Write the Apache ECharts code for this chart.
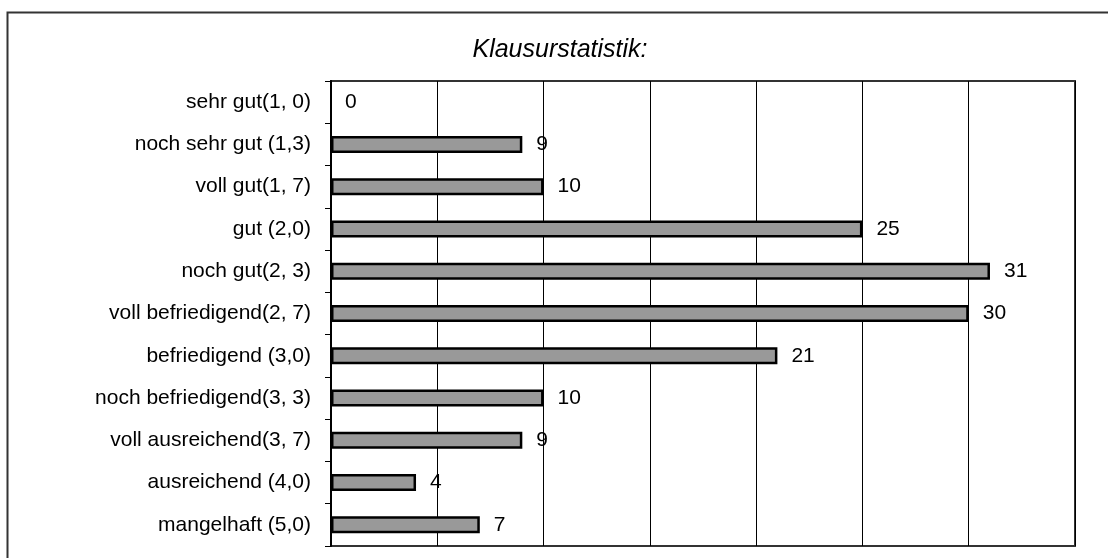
<!DOCTYPE html>
<html>
<head>
<meta charset="utf-8">
<script src="https://cdn.jsdelivr.net/npm/echarts@6/dist/echarts.min.js"></script>
<style>
html,body{margin:0;padding:0;background:#fff;}
#chart{width:1108px;height:558px;}
</style>
</head>
<body>
<div id="chart"></div>
<script>
const titleText = 'Klausurstatistik:';
const categories = [
  'sehr gut(1, 0)',
  'noch sehr gut (1,3)',
  'voll gut(1, 7)',
  'gut (2,0)',
  'noch gut(2, 3)',
  'voll befriedigend(2, 7)',
  'befriedigend (3,0)',
  'noch befriedigend(3, 3)',
  'voll ausreichend(3, 7)',
  'ausreichend (4,0)',
  'mangelhaft (5,0)'
];
const counts = [0, 9, 10, 25, 31, 30, 21, 10, 9, 4, 7];
const xMin = 0, xMax = 35, xStep = 5;

const font = '"Liberation Sans", Arial, sans-serif';
const barData = counts.map(v => v === 0
  ? {value: v, itemStyle: {borderWidth: 0, color: 'transparent'}}
  : {value: v});

const chart = echarts.init(document.getElementById('chart'), null, {renderer: 'canvas'});
chart.setOption({
  backgroundColor: '#fff',
  animation: false,
  title: {
    text: titleText,
    left: 555, top: 33, textAlign: 'center',
    textStyle: {fontFamily: font, fontSize: 25, fontStyle: 'italic', fontWeight: 'normal', color: '#000'}
  },
  graphic: [{
    type: 'rect', left: 5, top: 10, z: -1,
    shape: {x: 0, y: 0, width: 1200, height: 700},
    style: {fill: 'none', stroke: '#333', lineWidth: 2}
  }],
  grid: {
    left: 331, top: 81, width: 744, height: 465,
    show: true, borderColor: '#333', borderWidth: 2, backgroundColor: 'transparent'
  },
  xAxis: {
    type: 'value', min: xMin, max: xMax, interval: xStep,
    axisLabel: {show: false}, axisTick: {show: false},
    axisLine: {show: false},
    splitLine: {show: true, lineStyle: {color: '#000', width: 1}}
  },
  yAxis: {
    type: 'category', data: categories, inverse: true,
    axisLine: {show: true, lineStyle: {color: '#000', width: 2}},
    axisTick: {show: true, length: 6, lineStyle: {color: '#000', width: 1}},
    axisLabel: {fontFamily: font, fontSize: 21, color: '#000', margin: 20}
  },
  series: [{
    type: 'bar', data: barData, barWidth: 17,
    itemStyle: {color: '#999999', borderColor: '#000', borderWidth: 2.5},
    label: {show: true, position: 'right', distance: 14, fontFamily: font, fontSize: 21, color: '#000'}
  }]
});
</script>
</body>
</html>
